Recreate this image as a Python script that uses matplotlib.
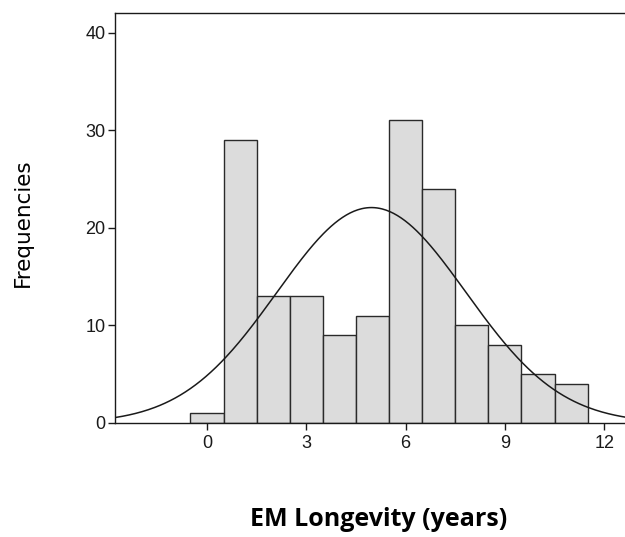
import numpy as np
import matplotlib.pyplot as plt

# histogram bins (centres) and counts
bin_centres = [0, 1, 2, 3, 4, 5, 6, 7, 8, 9, 10, 11]
counts = [1, 29, 13, 13, 9, 11, 31, 24, 10, 8, 5, 4]
x_ticks = [0, 3, 6, 9, 12]
y_ticks = [0, 10, 20, 30, 40]

fig = plt.figure(figsize=(6.25, 5.37), dpi=100)
ax = fig.add_axes([0.184, 0.2123, 0.816, 0.7635])

ax.bar(bin_centres, counts, width=1.0, color='#dcdcdc', edgecolor='#2a2a2a', linewidth=1.0)

# normal curve fitted to the binned data
c = np.array(bin_centres, dtype=float)
n = np.array(counts, dtype=float)
N = n.sum()
mean = (c * n).sum() / N
sd = np.sqrt(((c - mean) ** 2 * n).sum() / (N - 1))
xs = np.linspace(-2.78, 12.63, 400)
ys = N * np.exp(-0.5 * ((xs - mean) / sd) ** 2) / (sd * np.sqrt(2 * np.pi))
ax.plot(xs, ys, color='#1a1a1a', linewidth=1.1)

ax.set_xlim(-2.78, 12.63)
ax.set_ylim(0, 42.0)
ax.set_xticks(x_ticks)
ax.set_yticks(y_ticks)
ax.spines['right'].set_visible(False)
for s in ['left', 'bottom', 'top']:
    ax.spines[s].set_linewidth(1.0)
    ax.spines[s].set_color('#1a1a1a')
ax.tick_params(direction='out', length=5, width=1, colors='#1a1a1a', labelsize=13)
ax.tick_params(axis='x', pad=4)
ax.tick_params(axis='y', pad=2)
for lab in ax.get_xticklabels() + ax.get_yticklabels():
    lab.set_family('Liberation Sans')

fig.text(0.037, 0.585, 'Frequencies', rotation=90, ha='center', va='center',
         family='DejaVu Sans', fontsize=15.5)
fig.text(0.605, 0.02, 'EM Longevity (years)', ha='center', va='baseline',
         family='Open Sans', fontweight='bold', fontsize=18)

fig.savefig('out.png', dpi=100)
